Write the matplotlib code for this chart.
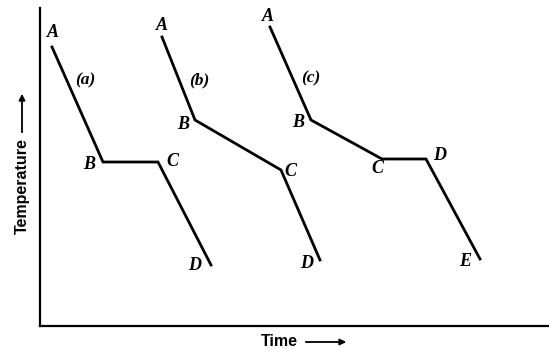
import matplotlib
matplotlib.use("Agg")
import matplotlib.pyplot as plt

# cooling curves, time vs temperature (arbitrary units)
time_a = [12, 63, 118, 171]
temp_a = [279, 164, 164, 61]
names_a = ["A", "B", "C", "D"]

time_b = [122, 155, 241, 280]
temp_b = [289, 206, 156, 66]
names_b = ["A", "B", "C", "D"]

time_c = [230, 271, 342, 386, 440]
temp_c = [299, 206, 167, 167, 67]
names_c = ["A", "B", "C", "D", "E"]

tags = ["(a)", "(b)", "(c)"]

# label offsets in pixels (dx, dy)
offs_a = [(1, 14), (-14, -3), (14, 0), (-16, 0)]
offs_b = [(0, 11), (-12, -5), (9, -2), (-13, -4)]
offs_c = [(-2, 10), (-13, -3), (-5, -10), (14, 3), (-15, -3)]
tag_pos = [(45, 246), (159, 246), (271, 248)]

fig = plt.figure(figsize=(5.49, 3.54), dpi=100)
ax = fig.add_axes([40 / 549, 28 / 354, 509 / 549, 318 / 354])
ax.set_xlim(0, 509)
ax.set_ylim(0, 318)

lab_font = dict(family="Liberation Serif", style="italic", weight="bold", fontsize=13)

for t, T, names, offs in [(time_a, temp_a, names_a, offs_a),
                          (time_b, temp_b, names_b, offs_b),
                          (time_c, temp_c, names_c, offs_c)]:
    ax.plot(t, T, color="black", lw=2.0, solid_joinstyle="miter")
    for x, y, n, o in zip(t, T, names, offs):
        ax.annotate(n, (x, y), xytext=o, textcoords="offset pixels",
                    ha="center", va="center", **lab_font)

for tag, p in zip(tags, tag_pos):
    ax.text(p[0], p[1], tag, ha="center", va="center",
            family="Liberation Serif", style="italic", weight="bold", fontsize=12.5)

for s in ["top", "right"]:
    ax.spines[s].set_visible(False)
for s in ["left", "bottom"]:
    ax.spines[s].set_linewidth(1.6)
ax.set_xticks([])
ax.set_yticks([])

# axis labels with arrows
fig.text(261 / 549, 1 - 342 / 354, "Time", ha="left", va="center",
         family="Liberation Sans", weight="bold", fontsize=11.5)
fig.add_artist(matplotlib.patches.FancyArrowPatch(
    (303 / 549, 1 - 342 / 354), (349 / 549, 1 - 342 / 354),
    transform=fig.transFigure, arrowstyle="-|>", mutation_scale=9,
    lw=1.3, color="black"))
fig.text(22 / 549, 1 - 186 / 354, "Temperature", ha="center", va="center",
         rotation=90, family="Liberation Sans", weight="bold", fontsize=11.5)
fig.add_artist(matplotlib.patches.FancyArrowPatch(
    (22 / 549, 1 - 135 / 354), (22 / 549, 1 - 91 / 354),
    transform=fig.transFigure, arrowstyle="-|>", mutation_scale=9,
    lw=1.3, color="black"))

fig.savefig("out.png", dpi=100)
